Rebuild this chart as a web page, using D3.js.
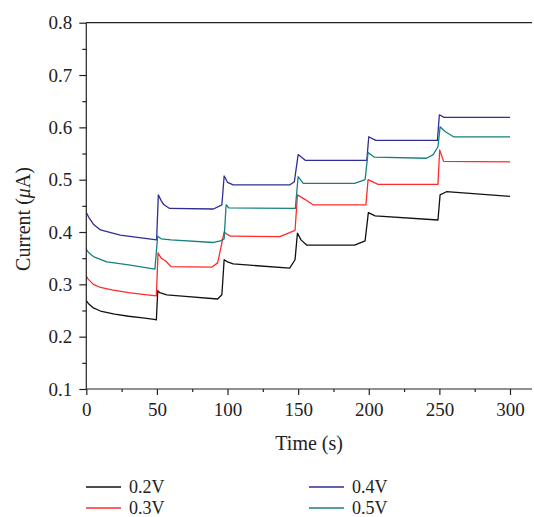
<!DOCTYPE html>
<html>
<head>
<meta charset="utf-8">
<script src="https://cdn.jsdelivr.net/npm/d3@7"></script>
<style>
  body { margin: 0; background: #fff; }
  svg text { font-family: "Liberation Serif", "Times New Roman", serif; fill: #222; }
  .axis text { font-size: 19px; }
  .axis path, .axis line { stroke: #222; stroke-width: 1.2; }
</style>
</head>
<body>
<svg id="chart" width="534" height="517"></svg>
<script>
// time (s) and current (uA)
let t_02 = [0, 1, 2, 5, 10, 20, 30, 40, 48, 49.6, 50.6, 52, 57, 70, 93, 96, 97.6, 100, 104, 144, 147.8, 149.5, 152, 156, 190, 197.4, 199.7, 204.5, 249, 250.5, 255, 300]
let v_02 = [0.269, 0.265, 0.262, 0.255, 0.249, 0.243, 0.239, 0.236, 0.233, 0.232, 0.288, 0.284, 0.280, 0.277, 0.272, 0.280, 0.347, 0.343, 0.339, 0.331, 0.347, 0.398, 0.385, 0.375, 0.375, 0.383, 0.437, 0.431, 0.423, 0.471, 0.477, 0.468]

let t_03 = [0, 1, 2, 5, 10, 19, 30, 40, 49.6, 50.8, 53, 56, 60, 89, 93, 97.6, 99, 102, 137, 147.8, 149.5, 155, 160.5, 198, 199.5, 206.6, 249, 250.2, 253, 300]
let v_03 = [0.316, 0.311, 0.308, 0.300, 0.294, 0.289, 0.284, 0.281, 0.278, 0.360, 0.350, 0.345, 0.334, 0.333, 0.341, 0.400, 0.397, 0.392, 0.391, 0.403, 0.471, 0.462, 0.452, 0.452, 0.500, 0.491, 0.491, 0.557, 0.535, 0.534]

let t_04 = [0, 1, 2, 5, 10, 24, 49.8, 51, 53, 55, 59, 90, 96, 97.6, 100, 104, 144, 147.3, 150, 155, 198.6, 200, 205, 248.6, 250, 253.3, 300]
let v_04 = [0.437, 0.432, 0.427, 0.415, 0.404, 0.394, 0.385, 0.471, 0.460, 0.452, 0.445, 0.444, 0.452, 0.507, 0.495, 0.490, 0.490, 0.496, 0.548, 0.537, 0.537, 0.582, 0.575, 0.575, 0.624, 0.619, 0.619]

let t_05 = [0, 1, 2, 5, 14.5, 30, 48.6, 50.5, 53, 60, 90, 95, 97.6, 99, 101, 148, 150, 153.6, 190, 197.4, 199.5, 204, 241, 245.6, 249, 250.5, 254, 260, 300]
let v_05 = [0.367, 0.363, 0.360, 0.353, 0.343, 0.337, 0.329, 0.392, 0.387, 0.385, 0.380, 0.383, 0.387, 0.452, 0.446, 0.445, 0.506, 0.493, 0.493, 0.500, 0.552, 0.543, 0.541, 0.548, 0.563, 0.601, 0.592, 0.582, 0.582]

let seriesNames = ["0.2V", "0.3V", "0.4V", "0.5V"]
let seriesColors = ["#111111", "#ff2b2b", "#2e2e96", "#16807e"]
let seriesT = [t_02, t_03, t_04, t_05]
let seriesV = [v_02, v_03, v_04, v_05]

let xTicks = [0, 50, 100, 150, 200, 250, 300]
let yTicks = [0.1, 0.2, 0.3, 0.4, 0.5, 0.6, 0.7, 0.8]

let svg = d3.select("#chart")
let plotLeft = 86.3, plotRight = 532, plotTop = 22.7, plotBottom = 389

let xScale = d3.scaleLinear().domain([0, 300]).range([plotLeft, 510])
let yScale = d3.scaleLinear().domain([0.1, 0.8]).range([plotBottom, plotTop])

// curves
let line = d3.line().x(d => xScale(d[0])).y(d => yScale(d[1]))
seriesNames.forEach(function (name, i) {
    let pts = seriesT[i].map((t, j) => [t, seriesV[i][j]])
    svg.append("path")
        .datum(pts)
        .attr("d", line)
        .attr("fill", "none")
        .attr("stroke", seriesColors[i])
        .attr("stroke-width", 1.3)
        .attr("stroke-linejoin", "round")
})

// minor ticks
let xMinor = d3.range(25, 300, 50)
let yMinor = d3.range(0.15, 0.8, 0.1)
svg.append("g").attr("class", "axis")
    .attr("transform", `translate(0,${plotBottom})`)
    .call(d3.axisBottom(xScale).tickValues(xMinor).tickSize(3).tickFormat(""))
    .call(g => g.select(".domain").remove())
svg.append("g").attr("class", "axis")
    .attr("transform", `translate(${plotLeft},0)`)
    .call(d3.axisLeft(yScale).tickValues(yMinor).tickSize(4).tickFormat(""))
    .call(g => g.select(".domain").remove())

// major ticks
svg.append("g").attr("class", "axis")
    .attr("transform", `translate(0,${plotBottom})`)
    .call(d3.axisBottom(xScale).tickValues(xTicks).tickSize(6).tickPadding(8).tickFormat(d3.format("d")))
    .call(g => g.select(".domain").remove())
svg.append("g").attr("class", "axis")
    .attr("transform", `translate(${plotLeft},0)`)
    .call(d3.axisLeft(yScale).tickValues(yTicks).tickSize(7).tickPadding(7).tickFormat(d3.format(".1f")))
    .call(g => g.select(".domain").remove())

// frame lines: left, bottom, top
let frame = svg.append("g").attr("stroke", "#222").attr("stroke-width", 1.2)
frame.append("line").attr("x1", plotLeft).attr("x2", plotLeft).attr("y1", plotTop).attr("y2", plotBottom)
frame.append("line").attr("x1", plotLeft).attr("x2", plotRight).attr("y1", plotBottom).attr("y2", plotBottom)
frame.append("line").attr("x1", plotLeft).attr("x2", plotRight).attr("y1", plotTop).attr("y2", plotTop)

// labels
svg.append("text")
    .attr("x", (plotLeft + plotRight) / 2)
    .attr("y", 450)
    .attr("text-anchor", "middle")
    .style("font-size", "20px")
    .text("Time (s)")

let yl = svg.append("text")
    .attr("transform", `translate(30,219) rotate(-90)`)
    .attr("text-anchor", "middle")
    .style("font-size", "20px")
yl.append("tspan").text("Current (")
yl.append("tspan").style("font-style", "italic").text("\u03bc")
yl.append("tspan").text("A)")

// legend
let legendX = [86, 309]
let legendY = [487, 508]
seriesNames.forEach(function (name, i) {
    let col = Math.floor(i / 2), row = i % 2
    let g = svg.append("g").attr("transform", `translate(${legendX[col]},${legendY[row]})`)
    g.append("line").attr("x1", 0).attr("x2", 35).attr("y1", 0).attr("y2", 0)
        .attr("stroke", seriesColors[i]).attr("stroke-width", 1.3)
    g.append("text").attr("x", 43).attr("y", 5.5).style("font-size", "18px").text(name)
})
</script>
</body>
</html>
